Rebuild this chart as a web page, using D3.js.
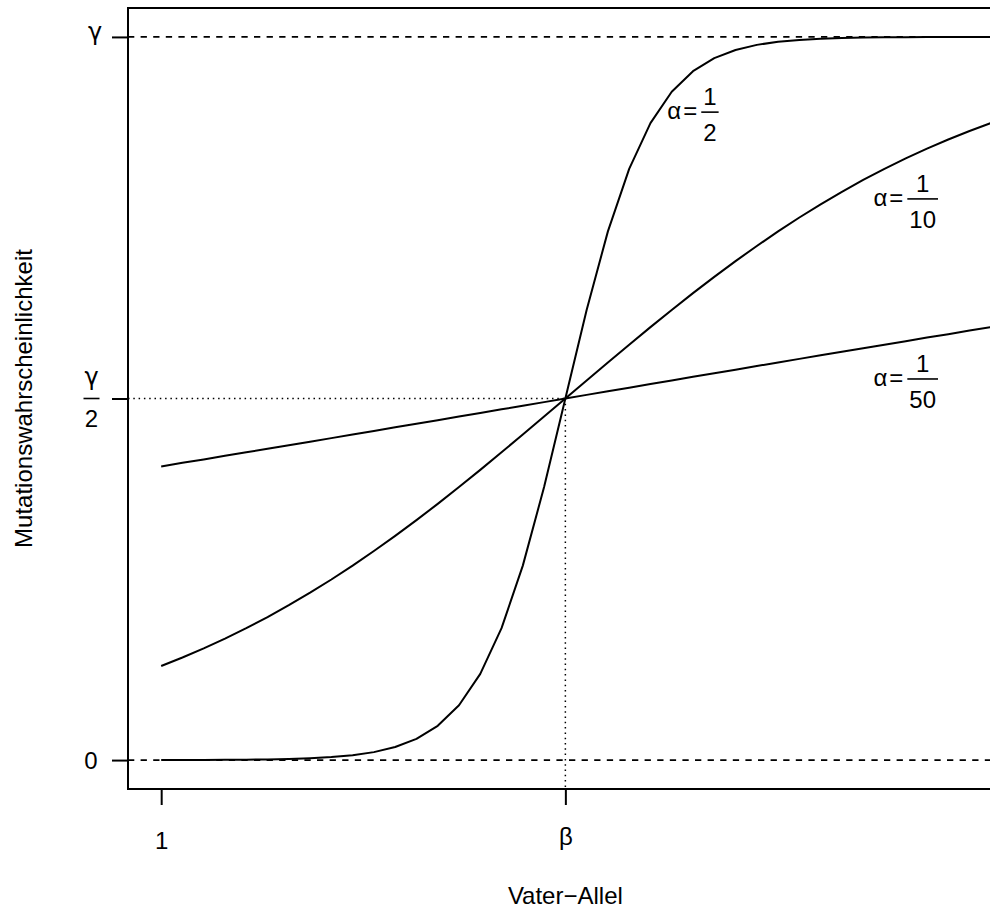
<!DOCTYPE html>
<html>
<head>
<meta charset="utf-8">
<script src="https://cdn.jsdelivr.net/npm/d3@7"></script>
<style>
  html, body { margin: 0; padding: 0; background: #fff; }
  svg { display: block; font-family: "Liberation Sans", Arial, Helvetica, sans-serif; }
</style>
</head>
<body>
<svg id="chart" width="990" height="908"></svg>
<script>
// Father allele index (x) and mutation probability in units of gamma (y)
const alleles = d3.range(1, 41); // 1 .. 40
const beta = 20;

// Logistic mutation probability for three slopes alpha, one value per allele
const probHalf = [
  0.0001, 0.0001, 0.0002, 0.0003, 0.0006, 0.0009, 0.0015, 0.0025, 0.0041, 0.0067,
  0.0110, 0.0180, 0.0293, 0.0474, 0.0759, 0.1192, 0.1824, 0.2689, 0.3775, 0.5000,
  0.6225, 0.7311, 0.8176, 0.8808, 0.9241, 0.9526, 0.9707, 0.9820, 0.9890, 0.9933,
  0.9959, 0.9975, 0.9985, 0.9991, 0.9994, 0.9997, 0.9998, 0.9999, 0.9999, 1.0000
];
const probTenth = [
  0.1301, 0.1419, 0.1545, 0.1680, 0.1824, 0.1978, 0.2142, 0.2315, 0.2497, 0.2689,
  0.2891, 0.3100, 0.3318, 0.3543, 0.3775, 0.4013, 0.4256, 0.4502, 0.4750, 0.5000,
  0.5250, 0.5498, 0.5744, 0.5987, 0.6225, 0.6457, 0.6682, 0.6900, 0.7109, 0.7311,
  0.7503, 0.7685, 0.7858, 0.8022, 0.8176, 0.8320, 0.8455, 0.8581, 0.8699, 0.8808
];
const probFiftieth = [
  0.4061, 0.4110, 0.4158, 0.4207, 0.4256, 0.4305, 0.4354, 0.4403, 0.4452, 0.4502,
  0.4551, 0.4601, 0.4651, 0.4700, 0.4750, 0.4800, 0.4850, 0.4900, 0.4950, 0.5000,
  0.5050, 0.5100, 0.5150, 0.5200, 0.5250, 0.5300, 0.5349, 0.5399, 0.5449, 0.5498,
  0.5548, 0.5597, 0.5646, 0.5695, 0.5744, 0.5793, 0.5842, 0.5890, 0.5939, 0.5987
];

const series = [
  { num: "1", den: "2",  values: probHalf,     lx: 26, ly: 0.896 },
  { num: "1", den: "10", values: probTenth,    lx: 36, ly: 0.776 },
  { num: "1", den: "50", values: probFiftieth, lx: 36, ly: 0.527 }
];

// Axis ticks
const xTicks = [1, beta];
const xTickLabels = ["1", "β"];
const yTicks = [0, 0.5, 1];

const svg = d3.select("#chart");
const mLeft = 128, mRight = 1024, mTop = 8, mBottom = 789;
const pad = 0.04;
const xSpan = 40 - 1, ySpan = 1;
const x = d3.scaleLinear().domain([1 - pad * xSpan, 40 + pad * xSpan]).range([mLeft, mRight]);
const y = d3.scaleLinear().domain([0 - pad * ySpan, 1 + pad * ySpan]).range([mBottom, mTop]);

const ink = "#000";
const fs = 24;
const greekFont = "DejaVu Sans, Liberation Sans, sans-serif";

// Reference lines: dashed at 0 and gamma, dotted guides to (beta, gamma/2)
svg.append("g").selectAll("line").data([0, 1]).join("line")
  .attr("x1", mLeft).attr("x2", mRight)
  .attr("y1", d => y(d)).attr("y2", d => y(d))
  .attr("stroke", ink).attr("stroke-width", 1.8)
  .attr("stroke-dasharray", "6.3,6.3");

svg.append("line")
  .attr("x1", mLeft).attr("x2", x(beta))
  .attr("y1", y(0.5)).attr("y2", y(0.5))
  .attr("stroke", ink).attr("stroke-width", 1.5)
  .attr("stroke-dasharray", "1.5,3.8");
svg.append("line")
  .attr("x1", x(beta)).attr("x2", x(beta))
  .attr("y1", y(0.5)).attr("y2", mBottom)
  .attr("stroke", ink).attr("stroke-width", 1.5)
  .attr("stroke-dasharray", "1.5,3.8");

// Curves
const line = d3.line().x((d, i) => x(alleles[i])).y(d => y(d));
svg.append("g").selectAll("path").data(series).join("path")
  .attr("d", d => line(d.values))
  .attr("fill", "none").attr("stroke", ink).attr("stroke-width", 2)
  .attr("stroke-linejoin", "round");

// Plot frame
svg.append("rect")
  .attr("x", mLeft).attr("y", mTop)
  .attr("width", mRight - mLeft).attr("height", mBottom - mTop)
  .attr("fill", "none").attr("stroke", ink).attr("stroke-width", 2);

// Bottom axis ticks and labels
const xAxis = d3.axisBottom(x).tickValues(xTicks)
  .tickFormat((d, i) => xTickLabels[i]).tickSize(16);
const gx = svg.append("g").attr("transform", `translate(0,${mBottom})`).call(xAxis);
gx.select(".domain").remove();
gx.selectAll(".tick line").attr("stroke", ink).attr("stroke-width", 2);
gx.selectAll(".tick text")
  .attr("font-size", fs).attr("fill", ink)
  .attr("font-family", "Liberation Sans, Arial, sans-serif")
  .attr("dy", null)
  .attr("y", (d, i) => i === 0 ? 60 : 56);

// Left axis ticks; labels drawn separately (gamma fraction)
const yAxis = d3.axisLeft(y).tickValues(yTicks).tickSize(16).tickFormat("");
const gy = svg.append("g").attr("transform", `translate(${mLeft},0)`).call(yAxis);
gy.select(".domain").remove();
gy.selectAll(".tick line").attr("stroke", ink).attr("stroke-width", 2);

const yl = svg.append("g").attr("font-size", fs).attr("fill", ink);
yl.append("text").attr("x", 91).attr("y", y(0) + 8.5)
  .attr("text-anchor", "middle").text("0");
yl.append("text").attr("x", 95).attr("y", y(1) + 3)
  .attr("text-anchor", "middle").attr("font-family", greekFont).text("γ");
const half = yl.append("g").attr("transform", `translate(91.5,${y(0.5)})`);
half.append("text").attr("y", -14).attr("text-anchor", "middle")
  .attr("font-family", greekFont).text("γ");
half.append("line").attr("x1", -8).attr("x2", 8).attr("y1", 0).attr("y2", 0)
  .attr("stroke", ink).attr("stroke-width", 1.6);
half.append("text").attr("y", 28).attr("text-anchor", "middle").text("2");

// Curve labels: alpha = num/den
function alphaLabel(g, num, den) {
  const a = g.append("text").attr("y", 7).text("α");
  const wa = a.node().getComputedTextLength();
  const eq = g.append("text").attr("x", wa + 2).attr("y", 7).text("=");
  const we = eq.node().getComputedTextLength();
  const n = g.append("text").attr("y", -7).attr("text-anchor", "middle").text(num);
  const dn = g.append("text").attr("y", 29).attr("text-anchor", "middle").text(den);
  const wf = Math.max(n.node().getComputedTextLength(), dn.node().getComputedTextLength()) + 4;
  const bx = wa + 2 + we + 4;
  n.attr("x", bx + wf / 2);
  dn.attr("x", bx + wf / 2);
  g.append("line").attr("x1", bx).attr("x2", bx + wf).attr("y1", 0).attr("y2", 0)
    .attr("stroke", ink).attr("stroke-width", 1.6);
  return bx + wf;
}
series.forEach(s => {
  const g = svg.append("g").attr("font-size", fs).attr("fill", ink);
  const inner = g.append("g");
  const w = alphaLabel(inner, s.num, s.den);
  g.attr("transform", `translate(${x(s.lx) - w / 2},${y(s.ly)})`);
});

// Axis titles
svg.append("text").attr("x", x(beta)).attr("y", 904)
  .attr("text-anchor", "middle").attr("font-size", fs).attr("fill", ink)
  .text("Vater\u2212Allel");
svg.append("text")
  .attr("transform", `translate(32,${(mTop + mBottom) / 2}) rotate(-90)`)
  .attr("text-anchor", "middle").attr("font-size", fs).attr("fill", ink)
  .text("Mutationswahrscheinlichkeit");
</script>
</body>
</html>
